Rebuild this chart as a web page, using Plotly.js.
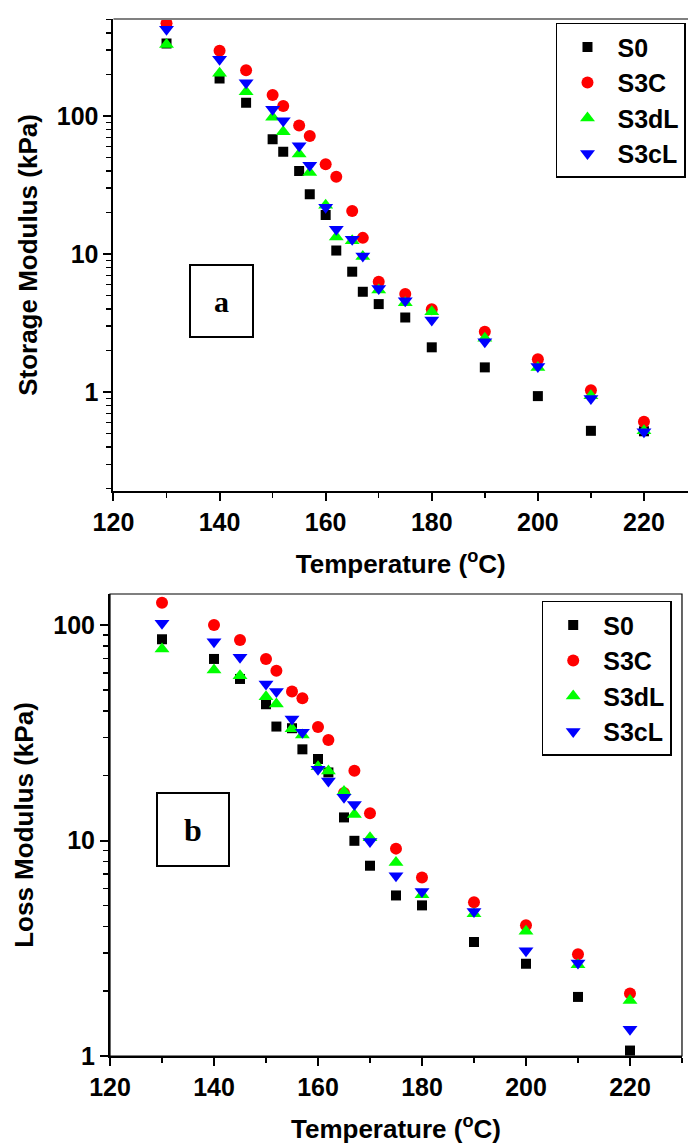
<!DOCTYPE html>
<html>
<head>
<meta charset="utf-8">
<script src="https://cdn.plot.ly/plotly-3.0.1.min.js"></script>
<style>html,body{margin:0;padding:0;background:#fff;}#chart{width:688px;height:1144px;}</style>
</head>
<body>
<div id="chart"></div>
<script>
// Temperatures (°C)
const temperature = [130, 140, 145, 150, 152, 155, 157, 160, 162, 165, 167, 170, 175, 180, 190, 200, 210, 220];

// (a) Storage modulus (kPa)
const storageS0   = [336, 187, 125, 68, 55, 40, 27.1, 19.2, 10.6, 7.45, 5.33, 4.34, 3.47, 2.11, 1.51, 0.935, 0.524, 0.52];
const storageS3C  = [470, 297, 215, 142, 118, 85.5, 71.6, 44.7, 36.3, 20.5, 13.1, 6.3, 5.13, 3.99, 2.74, 1.73, 1.03, 0.61];
const storageS3dL = [330, 204, 150, 98, 77, 53, 39, 22.6, 13.3, 12.5, 9.6, 5.48, 4.44, 3.82, 2.45, 1.51, 0.94, 0.524];
const storageS3cL = [425, 258, 174, 112, 92.5, 61, 44, 21.8, 15.1, 12.8, 9.7, 5.64, 4.59, 3.33, 2.32, 1.53, 0.90, 0.515];

// (b) Loss modulus (kPa)
const lossS0   = [85.9, 69.6, 56.2, 42.9, 33.8, 33.2, 26.5, 23.9, 20.7, 12.8, 9.97, 7.64, 5.56, 5.00, 3.38, 2.68, 1.88, 1.06];
const lossS3C  = [127, 100, 85.2, 69.6, 61.4, 49.1, 45.7, 33.6, 29.3, 16.6, 21.1, 13.4, 9.17, 6.73, 5.17, 4.04, 2.97, 1.95];
const lossS3dL = [77.4, 61.8, 58.2, 46.5, 43.0, 33.0, 30.9, 22.0, 21.0, 16.9, 13.2, 10.3, 7.91, 5.60, 4.57, 3.79, 2.65, 1.81];
const lossS3cL = [102, 83.7, 70.8, 53.2, 49.1, 36.6, 31.8, 21.4, 18.9, 15.9, 14.7, 9.9, 6.86, 5.80, 4.69, 3.08, 2.70, 1.33];

const seriesNames = ['S0', 'S3C', 'S3dL', 'S3cL'];
const storageSeries = [storageS0, storageS3C, storageS3dL, storageS3cL];
const lossSeries = [lossS0, lossS3C, lossS3dL, lossS3cL];
const colors = ['#000000', '#ff0000', '#00ff00', '#0000ff'];
const symbols = ['square', 'circle', 'triangle-up', 'triangle-down'];
const sizes = [10, 12, 13, 13];

const traces = [];
seriesNames.forEach((name, i) => {
  traces.push({
    x: temperature, y: storageSeries[i], name: name, type: 'scatter', mode: 'markers',
    xaxis: 'x', yaxis: 'y', legend: 'legend',
    marker: {symbol: symbols[i], color: colors[i], size: sizes[i], line: {width: 0}}
  });
});
seriesNames.forEach((name, i) => {
  traces.push({
    x: temperature, y: lossSeries[i], name: name, type: 'scatter', mode: 'markers',
    xaxis: 'x2', yaxis: 'y2', legend: 'legend2',
    marker: {symbol: symbols[i], color: colors[i], size: sizes[i], line: {width: 0}}
  });
});

const FONT = 'Liberation Sans, Arial, Helvetica, sans-serif';
const xCommon = {
  showline: true, linecolor: '#000', linewidth: 2, mirror: false,
  ticks: 'outside', ticklen: 8, tickwidth: 2, tickcolor: '#000',
  tick0: 120, dtick: 20, showgrid: false, zeroline: false,
  tickfont: {family: FONT, size: 25, color: '#000', weight: 'bold'},
  minor: {dtick: 10, ticks: 'outside', ticklen: 5, tickwidth: 1.5, tickcolor: '#000', showgrid: false},
  automargin: 'left'
};
const yCommon = {
  type: 'log', showline: true, linecolor: '#000', linewidth: 2, mirror: false,
  ticks: 'outside', ticklen: 8, tickwidth: 2, tickcolor: '#000',
  dtick: 1, showgrid: false, zeroline: false,
  tickfont: {family: FONT, size: 25, color: '#000', weight: 'bold'},
  minor: {dtick: 'D1', ticks: 'outside', ticklen: 5, tickwidth: 1.5, tickcolor: '#000', showgrid: false},
  automargin: 'top'
};

const legendCommon = {
  xanchor: 'left', yanchor: 'top',
  bgcolor: '#fff', bordercolor: '#000', borderwidth: 1.5, itemwidth: 50,
  font: {family: FONT, size: 25, color: '#000', weight: 'bold'}, tracegroupgap: 0
};

const layout = {
  width: 688, height: 1144,
  margin: {l: 110, r: 0, t: 19, b: 88},
  paper_bgcolor: '#fff', plot_bgcolor: '#fff',
  font: {family: FONT, size: 25, color: '#000', weight: 'bold'},
  showlegend: true,
  xaxis: Object.assign({}, xCommon, {
    domain: [0.006, 1], range: [120, 228.3], anchor: 'y',
    title: {text: 'Temperature (<sup>o</sup>C)', font: {family: FONT, size: 26, weight: 'bold'}, standoff: 20}
  }),
  yaxis: Object.assign({}, yCommon, {
    domain: [0.5448, 1], range: [-0.717, 2.703], anchor: 'x',
    title: {text: 'Storage Modulus (kPa)', font: {family: FONT, size: 26, weight: 'bold'}, standoff: 12}
  }),
  xaxis2: Object.assign({}, xCommon, {
    domain: [0, 0.9896], range: [120, 230], anchor: 'y2',
    title: {text: 'Temperature (<sup>o</sup>C)', font: {family: FONT, size: 26, weight: 'bold'}, standoff: 32}
  }),
  yaxis2: Object.assign({}, yCommon, {
    domain: [0, 0.4455], range: [0, 2.144], anchor: 'x2',
    title: {text: 'Loss Modulus (kPa)', font: {family: FONT, size: 26, weight: 'bold'}, standoff: 12}
  }),
  legend: Object.assign({}, legendCommon, {x: 0.7716, y: 0.9964}),
  legend2: Object.assign({}, legendCommon, {x: 0.7469, y: 0.4391}),
  shapes: [
    {type: 'line', xref: 'x domain', yref: 'y domain', x0: 0, x1: 1, y0: 1, y1: 1,
     line: {color: '#808080', width: 2}},
    {type: 'rect', xref: 'x2 domain', yref: 'y2 domain', x0: 0, x1: 1, y0: 0, y1: 1,
     line: {color: '#000', width: 1.2}}
  ],
  annotations: [
    {text: 'a', xref: 'x domain', yref: 'y domain', x: 0.188, y: 0.4025, xanchor: 'center', yanchor: 'middle',
     showarrow: false, width: 61, height: 70, borderpad: 0, bordercolor: '#000', borderwidth: 2, bgcolor: '#fff',
     font: {family: 'Liberation Serif, Times New Roman, serif', size: 30, color: '#000', weight: 'bold'}},
    {text: 'b', xref: 'x2 domain', yref: 'y2 domain', x: 0.1447, y: 0.4913, xanchor: 'center', yanchor: 'middle',
     showarrow: false, width: 70, height: 71, borderpad: 0, bordercolor: '#000', borderwidth: 2, bgcolor: '#fff',
     font: {family: 'Liberation Serif, Times New Roman, serif', size: 32, color: '#000', weight: 'bold'}}
  ]
};

Plotly.newPlot('chart', traces, layout, {displayModeBar: false, staticPlot: true});
</script>
</body>
</html>
